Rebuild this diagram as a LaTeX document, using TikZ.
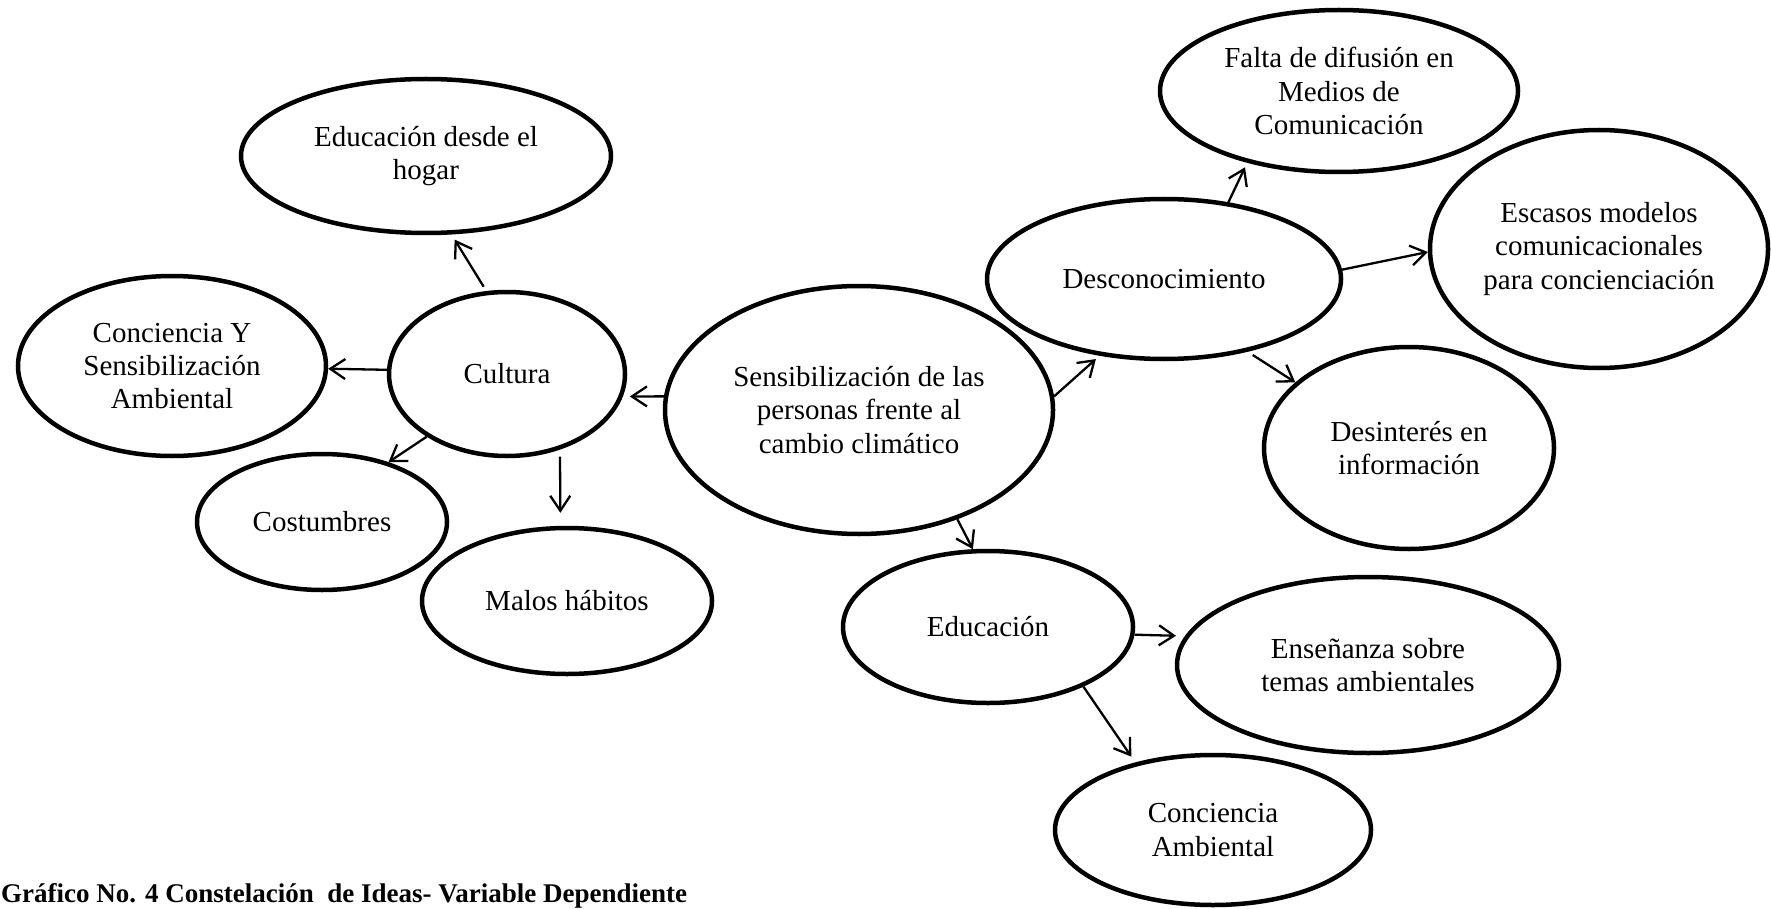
\documentclass[tikz,border=0pt]{standalone}
\usepackage{fontspec}
\setmainfont{Liberation Serif}
\usetikzlibrary{shapes.geometric,arrows.meta}
\begin{document}
\begin{tikzpicture}[x=1pt,y=-1pt,
  idea/.style={ellipse,draw,line width=4.5pt,inner sep=0pt,align=center,
    font=\fontsize{29}{33.3}\selectfont},
  conn/.style={line width=2.3pt,-{Straight Barb[length=15pt,width=20pt]}}]
\fill[white] (0,0) rectangle (1771,909);
\useasboundingbox (0,0) rectangle (1771,909);

\node[idea,minimum width=370pt,minimum height=154pt] (hog) at (426,156) {Educación desde el\\hogar};
\node[idea,minimum width=308pt,minimum height=180pt] (cyz) at (172,366) {Conciencia Y\\Sensibilización\\Ambiental};
\node[idea,minimum width=236pt,minimum height=164pt] (cul) at (507,374) {Cultura};
\node[idea,minimum width=250pt,minimum height=136pt] (cos) at (322,522) {Costumbres};
\node[idea,minimum width=290pt,minimum height=146pt] (mal) at (567,601) {Malos hábitos};
\node[idea,minimum width=388pt,minimum height=248pt] (sens) at (859,410) {Sensibilización de las\\personas frente al\\cambio climático};
\node[idea,minimum width=354pt,minimum height=160pt] (des) at (1164,279) {Desconocimiento};
\node[idea,minimum width=358pt,minimum height=162pt] (fal) at (1339,91) {Falta de difusión en\\Medios de\\Comunicación};
\node[idea,minimum width=338pt,minimum height=238pt] (esc) at (1599,249) {Escasos modelos\\comunicacionales\\para concienciación};
\node[idea,minimum width=290pt,minimum height=202pt] (din) at (1409,448) {Desinterés en\\información};
\node[idea,minimum width=290pt,minimum height=152pt] (edu) at (988,627) {Educación};
\node[idea,minimum width=382pt,minimum height=176pt] (ens) at (1368,665) {Enseñanza sobre\\temas ambientales};
\node[idea,minimum width=316pt,minimum height=150pt] (cam) at (1213,830) {Conciencia\\Ambiental};

\node[anchor=base west,inner sep=0pt,font=\fontsize{27}{32}\selectfont\bfseries] (cap) at (1,902)
  {Gráfico No. 4 Constelación\ \ de Ideas- Variable Dependiente};

\draw[conn,shorten <=5pt,shorten >=6pt] (cul.104.3) -- (hog.-72.8);
\draw[conn] (cul.178.5) -- (cyz.-1.8);
\draw[conn,shorten >=7pt] (sens.176.5) -- (cul.-11.8);
\draw[conn] (cul.-142.9) -- (cos.42.3);
\draw[conn,shorten <=7pt,shorten >=13pt] (cul.-55.2) -- (mal.95.7);
\draw[conn,shorten >=5pt] (sens.4.4) -- (des.-130.8);
\draw[conn] (sens.-48.3) -- (edu.101.4);
\draw[conn,shorten >=5pt] (des.50.8) -- (fal.-142);
\draw[conn] (des.3.5) -- (esc.181.3);
\draw[conn,shorten <=6pt] (des.-41.6) -- (din.150.6);
\draw[conn,shorten >=9pt] (edu.-3.9) -- (ens.171.2);
\draw[conn,shorten >=7pt] (edu.-32.4) -- (cam.139);
\end{tikzpicture}
\end{document}
